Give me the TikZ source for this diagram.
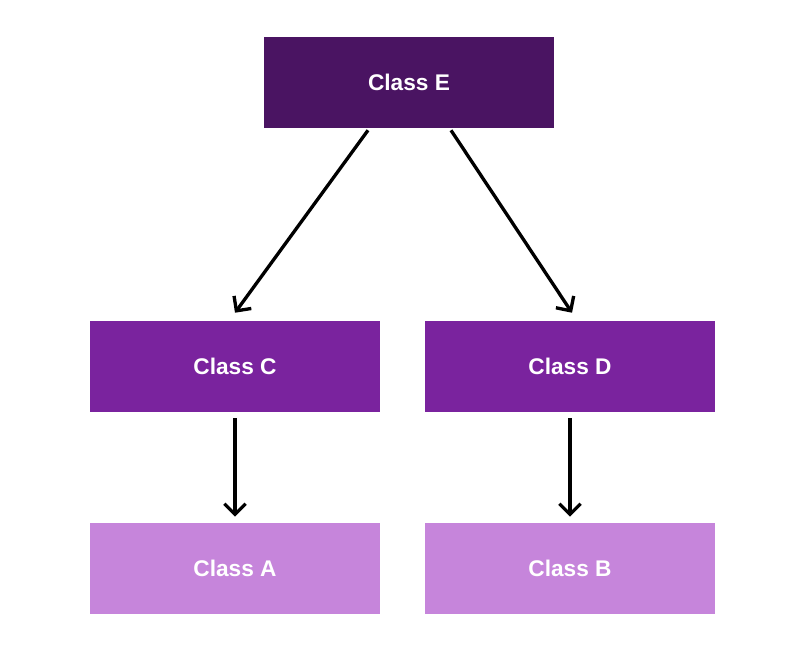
\documentclass[tikz,border=0pt]{standalone}
\usepackage{fontspec}
\setmainfont{Liberation Sans}
\usetikzlibrary{arrows.meta,calc}
\definecolor{deep}{HTML}{4A1462}
\definecolor{mid}{HTML}{7A239E}
\definecolor{light}{HTML}{C685DB}
\tikzset{
  cls/.style={rectangle, inner sep=0pt, minimum width=217.5pt, minimum height=68.25pt,
              text=white, font=\bfseries\fontsize{17}{20}\selectfont},
  arr/.style={line width=2.5pt, -{Straight Barb[length=8pt,width=16pt,line width=2.5pt]}}
}
\begin{document}
\begin{tikzpicture}[x=0.75pt,y=-0.75pt]
  \useasboundingbox (0,0) rectangle (793,649);
  \node[cls, fill=deep]  (E) at (409,82.5)  {Class E};
  \node[cls, fill=mid]   (C) at (235,366.5) {Class C};
  \node[cls, fill=mid]   (D) at (570,366.5) {Class D};
  \node[cls, fill=light] (A) at (235,568.5) {Class A};
  \node[cls, fill=light] (B) at (570,568.5) {Class B};
  \draw[arr] ($(E.south)+(-41,2)$) -- ($(C.north)+(0,-8)$);
  \draw[arr] ($(E.south)+(42,2)$) -- ($(D.north)+(2,-8)$);
  \draw[arr] ($(C.south)+(0,6)$) -- ($(A.north)+(0,-6)$);
  \draw[arr] ($(D.south)+(0,6)$) -- ($(B.north)+(0,-6)$);
\end{tikzpicture}
\end{document}
